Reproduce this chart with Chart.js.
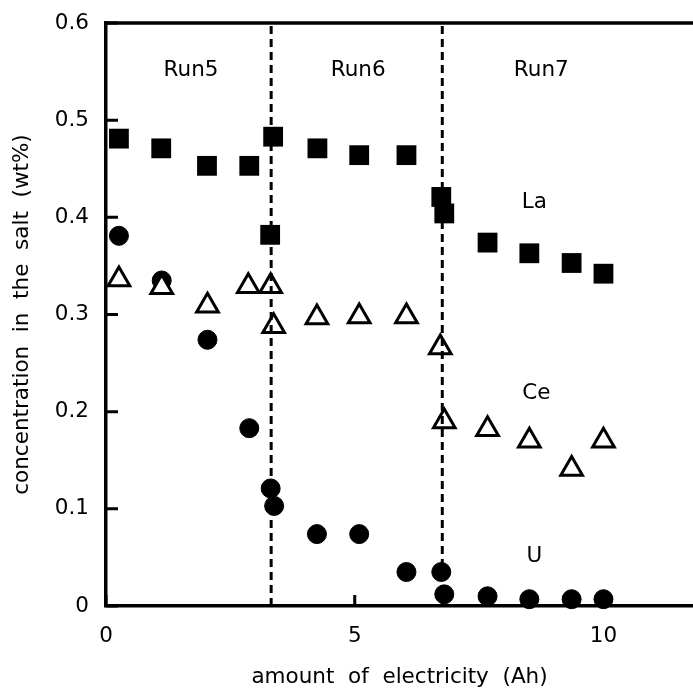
<!DOCTYPE html>
<html>
<head>
<meta charset="utf-8">
<script src="https://cdn.jsdelivr.net/npm/chart.js@4/dist/chart.umd.min.js"></script>
<style>
  html, body { margin:0; padding:0; background:#fff; }
  #wrap { width:693px; height:694px; }
</style>
</head>
<body>
<div id="wrap"><canvas id="chart" width="693" height="694"></canvas></div>
<script>
// amount of electricity (Ah) and salt concentration (wt%)
const laX = [0.26, 1.11, 2.03, 2.88, 3.36, 3.30, 4.25, 5.09, 6.04, 6.74, 6.80, 7.67, 8.51, 9.36, 10.0];
const laY = [0.481, 0.471, 0.453, 0.453, 0.483, 0.382, 0.471, 0.464, 0.464, 0.421, 0.404, 0.374, 0.363, 0.353, 0.342];

const ceX = [0.26, 1.12, 2.04, 2.86, 3.31, 3.37, 4.24, 5.09, 6.04, 6.72, 6.80, 7.67, 8.51, 9.36, 10.0];
const ceY = [0.336, 0.328, 0.309, 0.329, 0.329, 0.288, 0.297, 0.298, 0.298, 0.266, 0.190, 0.182, 0.170, 0.141, 0.170];

const uX = [0.26, 1.12, 2.04, 2.88, 3.31, 3.38, 4.24, 5.09, 6.04, 6.74, 6.80, 7.67, 8.51, 9.36, 10.0];
const uY = [0.381, 0.335, 0.274, 0.183, 0.121, 0.103, 0.074, 0.074, 0.035, 0.035, 0.012, 0.010, 0.007, 0.007, 0.007];

// boundaries between runs (Ah)
const runBounds = [3.32, 6.76];

// text labels inside the plot: [text, x, y]
const runLabels = [['Run5', 1.71, 0.551], ['Run6', 5.07, 0.551], ['Run7', 8.75, 0.551]];
const elemLabels = [['La', 8.61, 0.415], ['Ce', 8.65, 0.219], ['U', 8.61, 0.051]];

const xTicks = [0, 5, 10];
const yTicks = [0, 0.1, 0.2, 0.3, 0.4, 0.5, 0.6];
const xMax = 11.8;

const pts = (xs, ys) => xs.map((x, i) => ({x, y: ys[i]}));

Chart.defaults.font.family = '"DejaVu Sans", sans-serif';
Chart.defaults.font.size = 21.5;
Chart.defaults.color = '#000';

const datasets = [
  {label:'Ce', data: pts(ceX, ceY), pointStyle:'triangle', pointRadius:12.5,
   backgroundColor:'#fff', borderColor:'#000', borderWidth:3, order:1, clip:false},
  {label:'U', data: pts(uX, uY), pointStyle:'circle', pointRadius:9.5,
   backgroundColor:'#000', borderColor:'#000', borderWidth:1, order:2, clip:false},
  {label:'La', data: pts(laX, laY), pointStyle:'rect', pointRadius:14,
   backgroundColor:'#000', borderColor:'#000', borderWidth:0, order:3, clip:false}
];
runBounds.forEach((b, i) => {
  datasets.push({label:'bound' + i, data:[{x:b, y:0}, {x:b, y:0.6}], showLine:true,
    pointRadius:0, borderColor:'#000', borderWidth:3, borderDash:[8,5], order:0});
});

// inward ticks, top frame line and in-plot labels
const decor = {
  id:'decor',
  afterDatasetsDraw(chart) {
    const {ctx, chartArea:a, scales:{x, y}} = chart;
    ctx.save();
    ctx.strokeStyle = '#000';
    ctx.lineWidth = 3.5;
    ctx.beginPath();
    ctx.moveTo(a.left, a.top); ctx.lineTo(a.right, a.top);
    ctx.stroke();
    ctx.lineWidth = 3;
    ctx.beginPath();
    yTicks.forEach(v => {
      const py = y.getPixelForValue(v);
      ctx.moveTo(a.left, py); ctx.lineTo(a.left + 12, py);
    });
    xTicks.forEach(v => {
      const px = x.getPixelForValue(v);
      ctx.moveTo(px, a.bottom); ctx.lineTo(px, a.bottom - 11);
    });
    ctx.stroke();
    ctx.fillStyle = '#000';
    ctx.font = '21.5px "DejaVu Sans", sans-serif';
    ctx.textAlign = 'center';
    ctx.textBaseline = 'middle';
    runLabels.concat(elemLabels).forEach(([t, vx, vy]) => {
      ctx.fillText(t, x.getPixelForValue(vx), y.getPixelForValue(vy));
    });
    ctx.restore();
  }
};

new Chart(document.getElementById('chart'), {
  type:'scatter',
  data:{datasets},
  options:{
    responsive:false,
    animation:false,
    layout:{autoPadding:false, padding:{top:23, right:0, left:0, bottom:0}},
    plugins:{legend:{display:false}, tooltip:{enabled:false}},
    scales:{
      x:{
        type:'linear', min:0, max:xMax,
        afterBuildTicks: s => { s.ticks = xTicks.map(v => ({value:v})); },
        afterFit: s => { s.height = 88; s.paddingLeft = 0; s.paddingRight = 0; },
        grid:{display:false, drawTicks:false},
        border:{display:true, color:'#000', width:3.5},
        ticks:{padding:18, maxRotation:0, callback: v => String(v)},
        title:{display:true, text:'amount  of  electricity  (Ah)', padding:{top:0, bottom:4}}
      },
      y:{
        type:'linear', min:0, max:0.6,
        afterBuildTicks: s => { s.ticks = yTicks.map(v => ({value:v})); },
        // label padding would otherwise push the plot top down
        afterFit: s => { s.width = 106; s.paddingTop = 0; s.paddingBottom = 0; },
        grid:{display:false, drawTicks:false},
        border:{display:true, color:'#000', width:3.5},
        ticks:{padding:17, callback: v => v === 0 ? '0' : v.toFixed(1)},
        title:{display:true, text:'concentration  in  the  salt  (wt%)', padding:{top:10, bottom:0}}
      }
    }
  },
  plugins:[decor]
});
</script>
</body>
</html>
